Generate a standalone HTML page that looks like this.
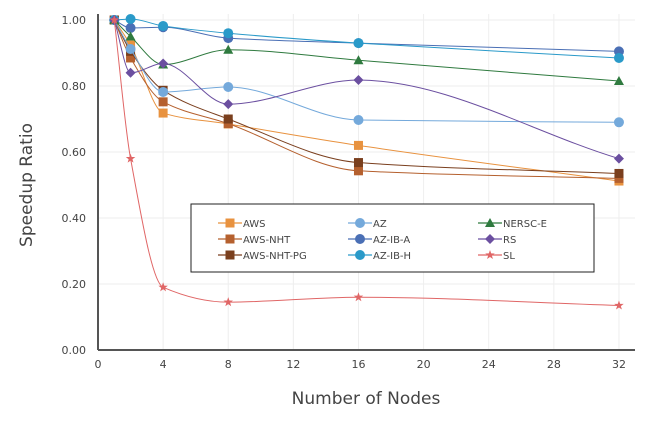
<!DOCTYPE html>
<html><head><meta charset="utf-8"><style>
body{margin:0;background:#fff;font-family:"Liberation Sans","DejaVu Sans",sans-serif}
svg text{font-family:"DejaVu Sans","Liberation Sans",sans-serif;fill:#444}
</style></head><body>
<svg id="c" width="655" height="426"></svg>
<script>
const xVals=[1,2,4,8,16,32];
const seriesNames=["AWS","AWS-NHT","AWS-NHT-PG","AZ","AZ-IB-A","AZ-IB-H","NERSC-E","RS","SL"];
const awsVals=[1,0.924,0.718,0.685,0.62,0.512];
const awsNhtVals=[1,0.885,0.752,0.686,0.543,0.52];
const awsNhtPgVals=[1,0.905,0.787,0.70,0.568,0.535];
const azVals=[1,0.912,0.782,0.797,0.697,0.69];
const azIbAVals=[1,0.976,0.978,0.945,0.93,0.905];
const azIbHVals=[1,1.003,0.982,0.96,0.93,0.885];
const nerscVals=[1,0.95,0.865,0.91,0.878,0.815];
const rsVals=[1,0.84,0.868,0.745,0.818,0.58];
const slVals=[1,0.58,0.19,0.145,0.16,0.135];
const xTicks=[0,4,8,12,16,20,24,28,32];
const yTicks=[0,0.2,0.4,0.6,0.8,1.0];
const allVals=[awsVals,awsNhtVals,awsNhtPgVals,azVals,azIbAVals,azIbHVals,nerscVals,rsVals,slVals];
const colors=["#e8923f","#b5602e","#7a3f1e","#74a9db","#4a6fb5","#2a9ac9","#2f7a3f","#6b4fa0","#e06666"];
const markers=["sq","sq","sq","ci","ci","ci","tri","dia","star"];
const X=v=>98+v*16.28, Y=v=>350-v*330;
const svg=document.getElementById('c'),NS="http://www.w3.org/2000/svg";
function mk(t,a,p){const e=document.createElementNS(NS,t);for(const k in a)e.setAttribute(k,a[k]);(p||svg).appendChild(e);return e;}
// grid
yTicks.forEach(t=>{const l=mk('line',{x1:98,x2:635,y1:Y(t),y2:Y(t),stroke:'#eee','stroke-width':1});

const tx=mk('text',{x:86,y:Y(t)+4,'font-size':11,'text-anchor':'end'});tx.textContent=t.toFixed(2);
});
xTicks.forEach(t=>{const l=mk('line',{x1:X(t),x2:X(t),y1:14,y2:350,stroke:'#eee','stroke-width':1});

const tx=mk('text',{x:X(t),y:368,'font-size':11,'text-anchor':'middle'});tx.textContent=t;
});
const ya=mk('line',{x1:98,x2:98,y1:14,y2:350,stroke:'#555','stroke-width':2});

const xa=mk('line',{x1:98,x2:635,y1:350,y2:350,stroke:'#555','stroke-width':2});

const yt=mk('text',{x:32,y:185,'font-size':17,'text-anchor':'middle',transform:'rotate(-90 32 185)'});yt.textContent='Speedup Ratio';

const xt=mk('text',{x:366,y:404,'font-size':17,'text-anchor':'middle'});xt.textContent='Number of Nodes';

function smooth(pts){// monotone cubic
const n=pts.length,d=[],m=[];for(let i=0;i<n-1;i++)d.push((pts[i+1][1]-pts[i][1])/(pts[i+1][0]-pts[i][0]));
m[0]=d[0];m[n-1]=d[n-2];for(let i=1;i<n-1;i++)m[i]=d[i-1]*d[i]<=0?0:2/(1/d[i-1]+1/d[i]);
let s=`M${pts[0][0]},${pts[0][1]}`;for(let i=0;i<n-1;i++){const h=(pts[i+1][0]-pts[i][0])/3;
s+=` C${pts[i][0]+h},${pts[i][1]+m[i]*h} ${pts[i+1][0]-h},${pts[i+1][1]-m[i+1]*h} ${pts[i+1][0]},${pts[i+1][1]}`;}return s;}
function marker(type,x,y,c,g){let e;
if(type=='sq')e=mk('rect',{x:x-4.5,y:y-4.5,width:9,height:9,fill:c},g);
else if(type=='ci')e=mk('circle',{cx:x,cy:y,r:5,fill:c},g);
else if(type=='tri')e=mk('polygon',{points:`${x},${y-5} ${x-5},${y+4} ${x+5},${y+4}`,fill:c},g);
else if(type=='dia')e=mk('polygon',{points:`${x},${y-5} ${x+5},${y} ${x},${y+5} ${x-5},${y}`,fill:c},g);
else{let p=[];for(let k=0;k<10;k++){const r=k%2?2:5,a=-Math.PI/2+k*Math.PI/5;p.push((x+r*Math.cos(a))+','+(y+r*Math.sin(a)));}
e=mk('polygon',{points:p.join(' '),fill:c},g);}return e;}
allVals.forEach((vals,si)=>{const g=mk('g',{});

const pts=vals.map((v,i)=>[X(xVals[i]),Y(v)]);
const p=mk('path',{d:smooth(pts),fill:'none',stroke:colors[si],'stroke-width':1},g);

pts.forEach(q=>{const m=marker(markers[si],q[0],q[1],colors[si],g);
});});
// legend
const lg=mk('g',{});
mk('rect',{x:191,y:204,width:403,height:68,fill:'#fff',stroke:'#222','stroke-width':1},lg);
seriesNames.forEach((nm,i)=>{const col=Math.floor(i/3),row=i%3;const x=218+col*130,y=223+row*16;
const e=mk('g',{},lg);
mk('line',{x1:x,x2:x+24,y1:y,y2:y,stroke:colors[i],'stroke-width':1.2},e);
marker(markers[i],x+12,y,colors[i],e);
const t=mk('text',{x:x+25,y:y+4,'font-size':10},e);t.textContent=nm;});
</script></body></html>
